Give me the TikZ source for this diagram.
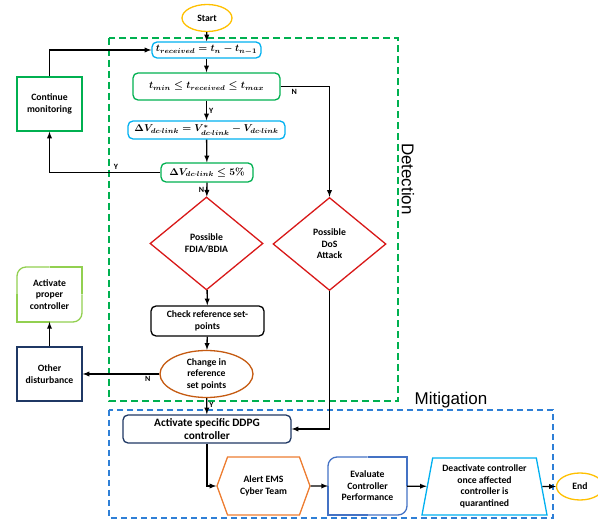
\documentclass[tikz,border=0pt]{standalone}
\usepackage{amsmath}
\usepackage[no-math]{fontspec}
\setmainfont{Carlito}
\newfontfamily\headfont{Liberation Sans}
\usetikzlibrary{shapes.geometric, shapes.symbols}
\definecolor{detgreen}{HTML}{00B050}
\definecolor{mitblue}{HTML}{2E7FD6}
\definecolor{skyblue}{HTML}{00B0F0}
\definecolor{alarmred}{HTML}{D81818}
\definecolor{startyel}{HTML}{FFC000}
\definecolor{brownor}{HTML}{C55A11}
\definecolor{alertor}{HTML}{ED7D31}
\definecolor{navyb}{HTML}{1F3864}
\definecolor{evalb}{HTML}{4472C4}
\definecolor{limeg}{HTML}{92D050}
\tikzstyle{every node}=[font=\fontsize{9.7}{11.5}\selectfont\bfseries]
\tikzstyle{terminal} = [ellipse, draw=startyel, line width=1.3pt, inner sep=0pt]
\tikzstyle{calc} = [rectangle, rounded corners=5pt, line width=1.3pt, inner sep=0pt, align=center]
\tikzstyle{formula} = [calc, font=\fontsize{10}{12}\selectfont\boldmath]
\tikzstyle{square} = [rectangle, line width=1.3pt, inner sep=0pt, align=center,
    minimum width=65pt, minimum height=54pt]
\tikzstyle{decision} = [diamond, draw=alarmred, line width=1.3pt, inner sep=0pt, align=center,
    minimum width=113pt, minimum height=93pt]
\tikzstyle{flow} = [line width=1.3pt, ->, >=latex]
\tikzstyle{yn} = [font=\fontsize{8}{9}\selectfont\bfseries, inner sep=2pt]
\tikzstyle{phase} = [font=\headfont\fontsize{17}{20}\selectfont]
\newcommand{\dcl}{dc\text{-}link}
% box with two diagonal corners rounded
\newcommand{\rounddiag}[2]{%
  \draw[#2, line width=1.3pt] (#1.north) -- (#1.north east) -- (#1.east);
  \draw[#2, line width=1.3pt, rounded corners=9pt] (#1.east) -- (#1.south east) -- (#1.south);
  \draw[#2, line width=1.3pt] (#1.south) -- (#1.south west) -- (#1.west);
  \draw[#2, line width=1.3pt, rounded corners=9pt] (#1.west) -- (#1.north west) -- (#1.north);
}

\begin{document}
\begin{tikzpicture}[x=1pt,y=-1pt]
	\useasboundingbox (0,0) rectangle (598,521);

	% phases
	\draw[detgreen, line width=1.4pt, dash pattern=on 7pt off 4pt] (109,38) rectangle (398,401);
	\draw[mitblue, line width=1.2pt, dash pattern=on 6pt off 4pt] (109,410) rectangle (553,518);
	\node[phase, rotate=-90] (detlbl) at (408,179) {Detection};
	\node[phase] (mitlbl) at (451,400) {Mitigation};

	% detection
	\node[terminal, minimum width=50pt, minimum height=27pt] (start) at (207,18) {Start};
	\node[formula, draw=skyblue, minimum width=109pt, minimum height=16pt] (trec) at (206.5,50)
		{$t_{received} = t_n - t_{n-1}$};
	\node[formula, draw=detgreen, minimum width=147pt, minimum height=27pt] (tcheck) at (206.5,86.5)
		{$t_{min} \le t_{received} \le t_{max}$};
	\node[formula, draw=skyblue, minimum width=157pt, minimum height=18pt] (dv) at (206.5,130)
		{$\Delta V_{\dcl} = V^{*}_{\dcl} - V_{\dcl}$};
	\node[formula, draw=detgreen, minimum width=92pt, minimum height=19pt] (dvchk) at (207,172.5)
		{$\Delta V_{\dcl} \le 5\%$};
	\node[decision] (fdia) at (206.5,243.5) {Possible\\FDIA/BDIA};
	\node[decision] (dos) at (329.5,244) {Possible\\DoS\\Attack};
	\node[calc, draw=black, minimum width=113pt, minimum height=30pt] (chkref) at (207.5,321)
		{Check reference set-\\points};
	\node[ellipse, draw=brownor, line width=1.3pt, inner sep=0pt, align=center,
		minimum width=93pt, minimum height=47pt] (chg) at (206.5,374) {Change in\\reference\\set points};

	% left column
	\node[square, draw=detgreen] (cont) at (49.5,104) {Continue\\monitoring};
	\node[square, minimum height=55pt, outer sep=0pt] (actp) at (49.5,294.5) {Activate\\proper\\controller};
	\rounddiag{actp}{limeg}
	\node[square, draw=navyb] (other) at (49.5,374) {Other\\disturbance};

	% mitigation
	\node[calc, draw=navyb, minimum width=168pt, minimum height=28pt,
		font=\fontsize{11.3}{13.5}\selectfont\bfseries] (ddpg) at (207,429)
		{Activate specific DDPG\\controller};
	\node[signal, signal to=east and west, signal pointer angle=140, draw=alertor,
		line width=1.3pt, inner sep=0pt, align=center,
		minimum width=93pt, minimum height=58pt] (alert) at (263.5,486) {Alert EMS\\Cyber Team};
	\node[square, minimum width=79pt, minimum height=58pt, outer sep=0pt] (eval) at (367.5,486)
		{Evaluate\\Controller\\Performance};
	\rounddiag{eval}{evalb}
	\node[trapezium, trapezium left angle=76, trapezium right angle=76, trapezium stretches body=true,
		draw=skyblue, line width=1.3pt, inner sep=0pt, align=center,
		minimum width=125pt, minimum height=57pt] (deact) at (484.5,486.5)
		{Deactivate controller\\once affected\\controller is\\quarantined};
	\node[terminal, minimum width=47pt, minimum height=27pt] (endn) at (580,486.5) {End};

	% connectors
	\draw[flow] (start) -- (trec);
	\draw[flow] (trec) -- (tcheck);
	\draw[flow] (tcheck) -- node[yn, right]{Y} (dv);
	\draw[flow] (dv) -- (dvchk);
	\draw[flow] (dvchk) -- node[yn, left]{N} (fdia);
	\draw[flow] (tcheck.east) -| node[yn, pos=.14, below]{N} (dos.north);
	\draw[flow] (dvchk.west) -| node[yn, pos=.2, above]{Y} (cont.south);
	\draw[flow] (cont.north) |- (trec.west);
	\draw[flow] (fdia) -- (chkref);
	\draw[flow] (chkref) -- (chg);
	\draw[flow] (chg) -- node[yn, pos=.15, below]{N} (other);
	\draw[flow] (other) -- (actp);
	\draw[flow] (chg) -- node[yn, pos=.4, right]{Y} (ddpg);
	\draw[flow] (dos.south) |- (ddpg.east);
	\draw[flow] (ddpg.south) |- (alert.west);
	\draw[flow] (alert) -- (eval);
	\draw[flow] (eval) -- (deact);
	\draw[flow] (deact) -- (endn);
\end{tikzpicture}
\end{document}
